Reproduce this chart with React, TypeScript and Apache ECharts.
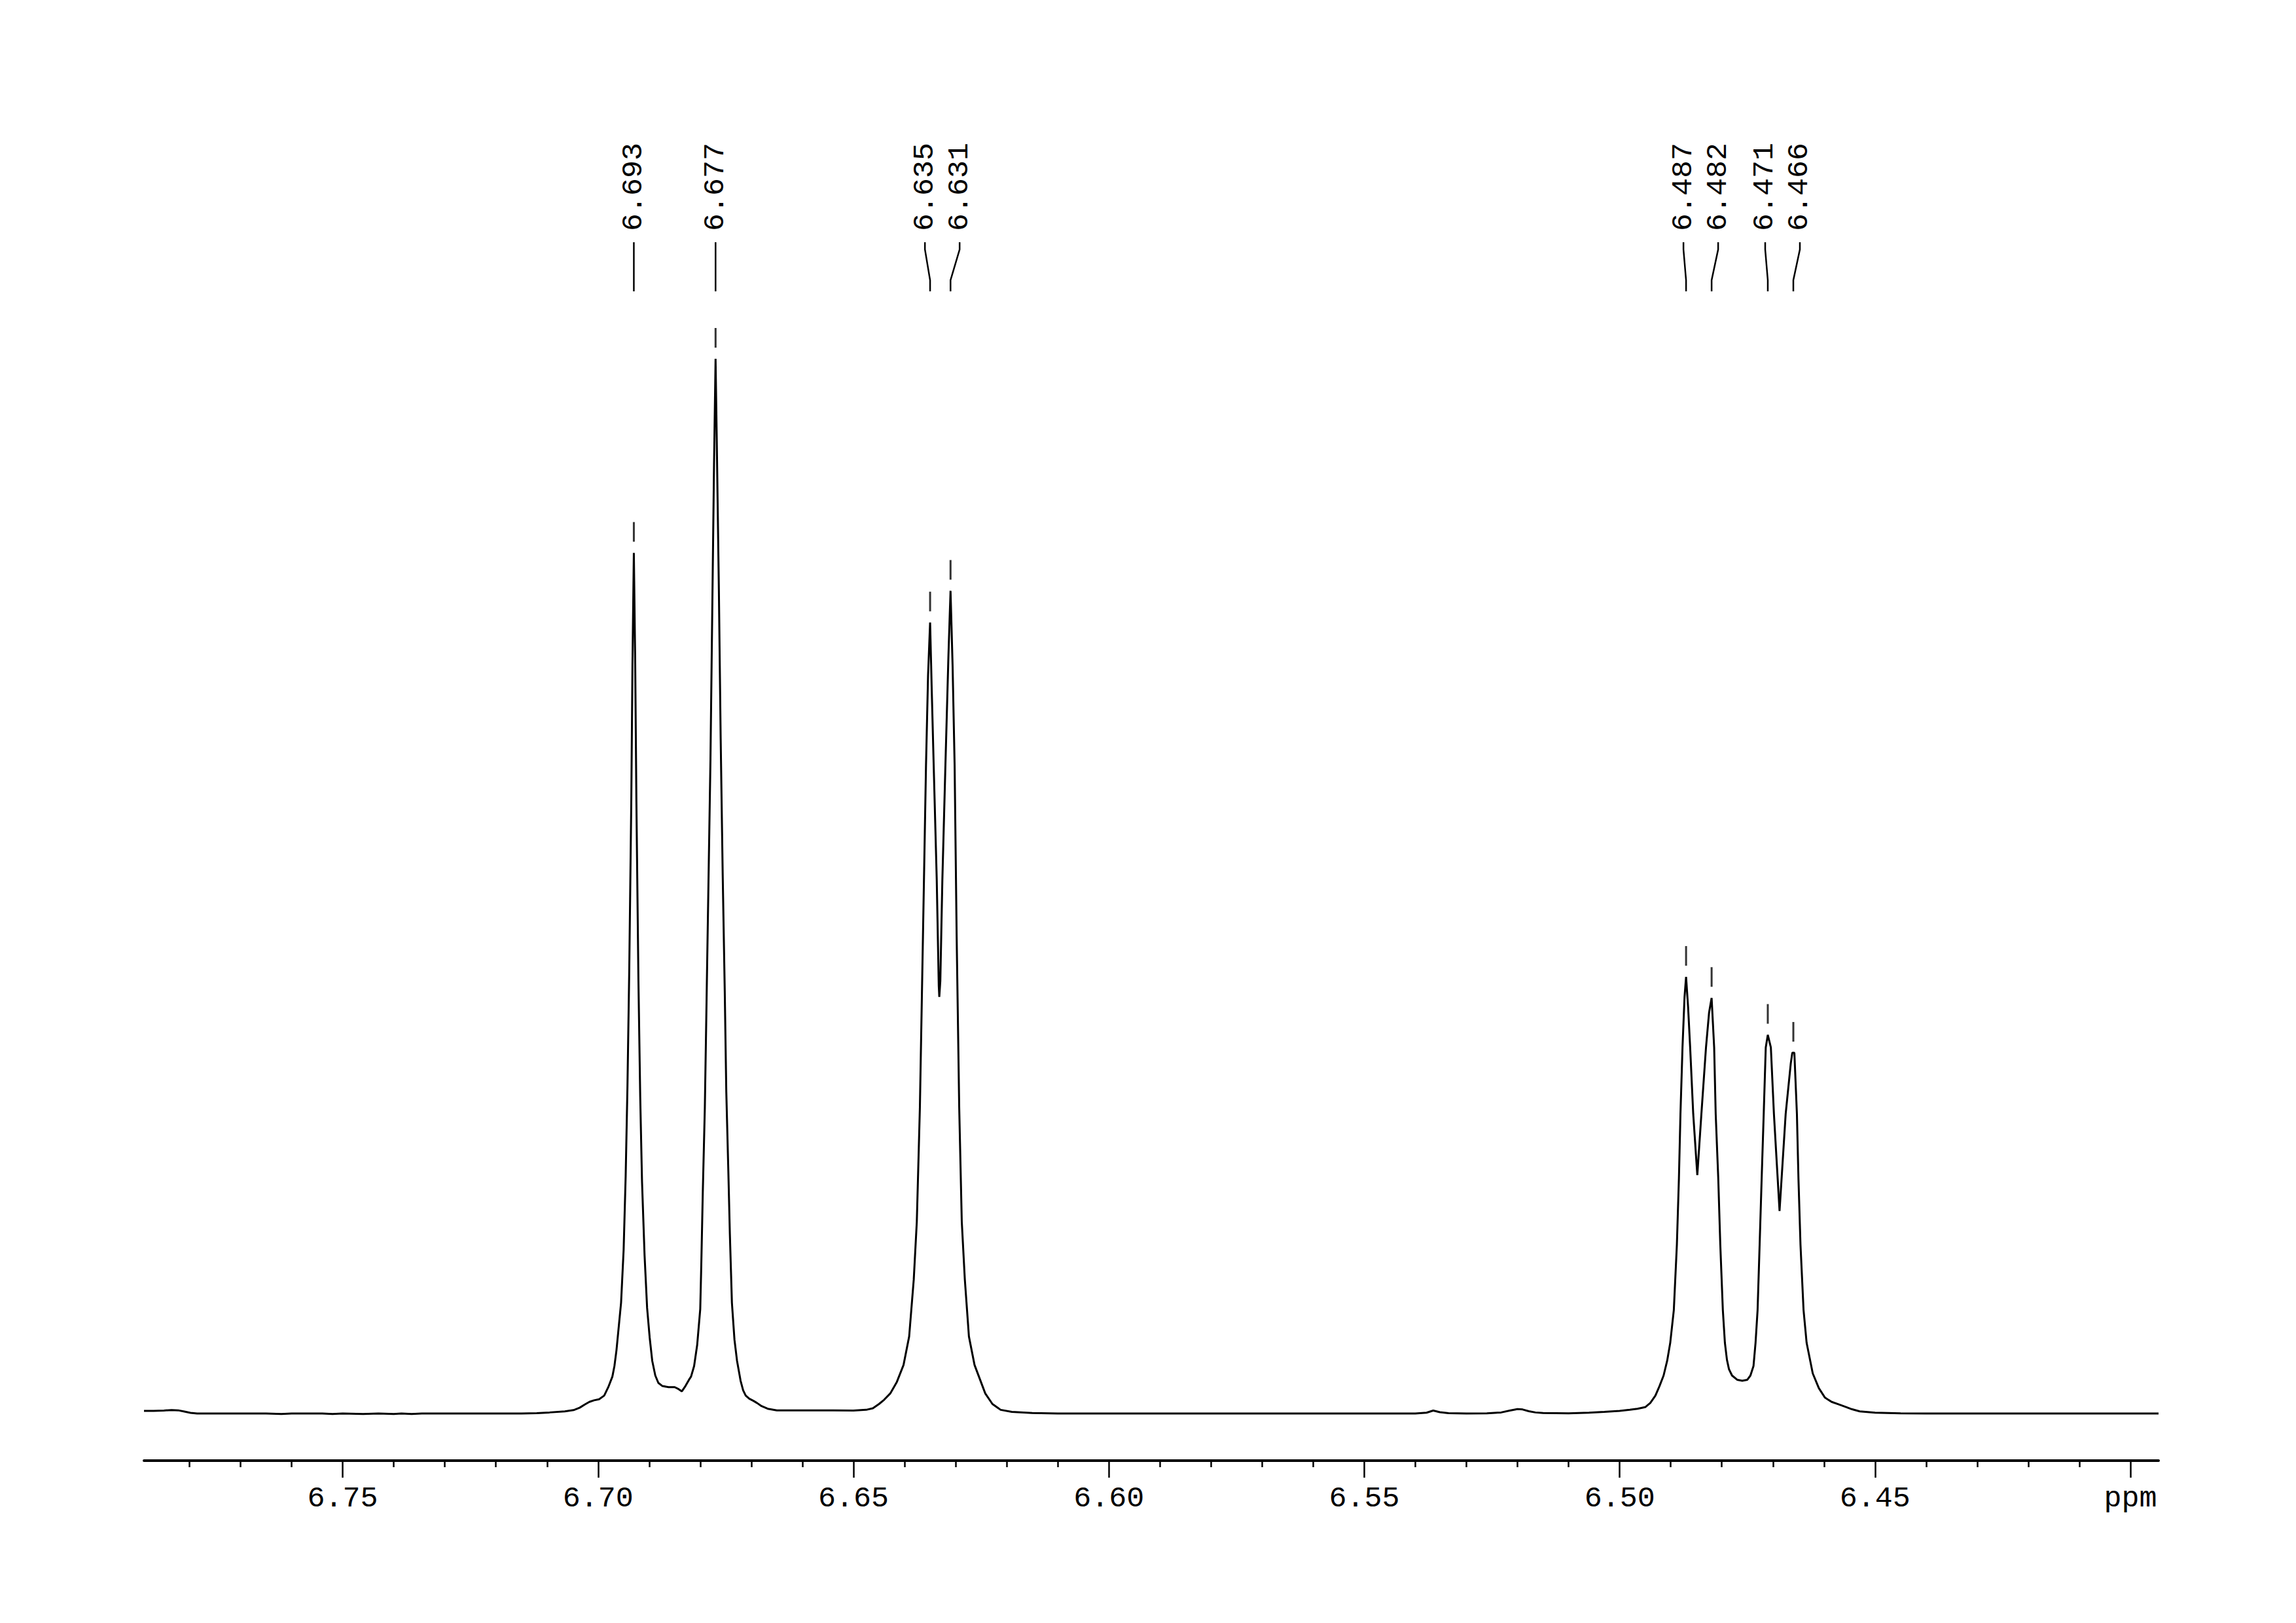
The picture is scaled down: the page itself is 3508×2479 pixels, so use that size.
import React, { useEffect, useRef } from 'react';
import * as echarts from 'echarts';

// Spectrum trace: [chemical shift (ppm), intensity (tallest peak = 100)]
const BASELINE_LEFT: [number, number][] = [
  [6.7889, 0.25], [6.7870, 0.25], [6.7850, 0.28], [6.7835, 0.33], [6.7822, 0.3], [6.7810, 0.18],
  [6.7798, 0.06], [6.7785, 0.0], [6.7700, 0.0], [6.7650, 0.0], [6.7620, -0.05], [6.7600, 0.0],
  [6.7540, 0.0], [6.7520, -0.05], [6.7500, 0.0], [6.7460, -0.04], [6.7430, 0.0], [6.7400, -0.05],
  [6.7385, 0.0], [6.7365, -0.05], [6.7345, 0.0], [6.7250, 0.0], [6.7150, 0.0], [6.7120, 0.03],
  [6.7095, 0.1], [6.7065, 0.2], [6.7048, 0.32], [6.7036, 0.55], [6.7026, 0.85], [6.7017, 1.1],
  [6.7008, 1.25], [6.6998, 1.35], [6.6988, 1.7], [6.6980, 2.5], [6.6972, 3.5],
];
const PEAK_6693: [number, number][] = [
  [6.6968, 4.5], [6.6964, 6.0], [6.6960, 8.0], [6.6955, 10.5], [6.6950, 15.5], [6.6946, 22.5],
  [6.69425, 31.0], [6.6939, 42.0], [6.6935, 58.0], [6.69327, 71.0], [6.6930, 81.6], [6.69273, 71.0],
  [6.6925, 58.0], [6.6921, 41.0], [6.69175, 30.0], [6.6914, 22.0], [6.6909, 15.0], [6.6904, 10.0],
  [6.6899, 7.2], [6.6894, 5.0], [6.6888, 3.6], [6.6882, 2.9], [6.6874, 2.6], [6.6862, 2.5],
  [6.6850, 2.5], [6.6842, 2.3], [6.6836, 2.1], [6.6829, 2.6], [6.6822, 3.2],
];
const PEAK_6677: [number, number][] = [
  [6.6818, 3.5], [6.6812, 4.5], [6.6806, 6.5], [6.6800, 9.9], [6.6798, 14.0], [6.6795, 21.0],
  [6.6791, 29.0], [6.6788, 38.0], [6.6784, 50.0], [6.6780, 62.0], [6.67765, 76.0], [6.6773, 90.0],
  [6.6770, 100.0], [6.6767, 90.0], [6.67635, 78.0], [6.6760, 64.0], [6.6756, 51.0], [6.6752, 40.0],
  [6.6749, 30.5], [6.6745, 23.0], [6.6742, 17.0], [6.6738, 10.5], [6.6733, 7.0], [6.6728, 5.0],
  [6.6721, 3.1], [6.6716, 2.2], [6.6711, 1.7], [6.6704, 1.4], [6.6696, 1.2], [6.6689, 1.0],
  [6.6680, 0.7], [6.6668, 0.45], [6.6650, 0.3], [6.6620, 0.3], [6.6580, 0.3], [6.6540, 0.3],
  [6.6500, 0.28], [6.6475, 0.35],
];
const DOUBLET_663: [number, number][] = [
  [6.6462, 0.5], [6.6450, 0.9], [6.6440, 1.3], [6.6428, 1.9], [6.6415, 3.0], [6.6402, 4.6],
  [6.6391, 7.3], [6.6382, 12.7], [6.6376, 18.2], [6.6370, 29.0], [6.6364, 45.2], [6.6358, 61.5],
  [6.6354, 70.0], [6.6350, 75.0], [6.6347, 69.0], [6.6343, 61.5], [6.6337, 50.6], [6.6333, 40.5],
  [6.6332, 39.5], [6.6330, 41.0], [6.6326, 50.6], [6.6320, 61.5], [6.6314, 72.0], [6.6310, 78.0],
  [6.6306, 71.0], [6.6302, 61.5], [6.6298, 45.2], [6.6293, 29.0], [6.6288, 18.2], [6.6282, 12.7],
  [6.6274, 7.3], [6.6263, 4.6], [6.6242, 1.9], [6.6228, 0.9], [6.6212, 0.35], [6.6190, 0.15],
  [6.6150, 0.05], [6.6100, 0.0],
];
const BASELINE_MID: [number, number][] = [
  [6.6000, 0.0], [6.5900, 0.0], [6.5800, 0.0], [6.5700, 0.0], [6.5600, 0.0], [6.5500, 0.0],
  [6.5400, 0.0], [6.5378, 0.08], [6.5365, 0.28], [6.5352, 0.12], [6.5335, 0.03], [6.5300, 0.0],
  [6.5260, 0.02], [6.5232, 0.1], [6.5215, 0.28], [6.5200, 0.42], [6.5190, 0.38], [6.5178, 0.22],
  [6.5165, 0.1], [6.5150, 0.05], [6.5100, 0.02], [6.5060, 0.08], [6.5030, 0.15], [6.5000, 0.25],
  [6.4980, 0.35], [6.4965, 0.45],
];
const MULTIPLET_648: [number, number][] = [
  [6.4950, 0.6], [6.4940, 1.0], [6.4930, 1.7], [6.4922, 2.6], [6.4914, 3.6], [6.4907, 5.0],
  [6.4901, 6.7], [6.4894, 9.8], [6.4888, 16.0], [6.4884, 22.3], [6.4881, 28.4], [6.4877, 34.7],
  [6.4873, 39.5], [6.4870, 41.4], [6.4866, 38.5], [6.4862, 34.7], [6.4856, 28.4], [6.4848, 22.6],
  [6.4840, 28.4], [6.4831, 34.7], [6.4825, 38.0], [6.4820, 39.4], [6.4815, 34.7], [6.4812, 28.4],
  [6.4807, 22.3], [6.4803, 16.0], [6.4798, 9.8], [6.4794, 6.7], [6.4790, 5.1], [6.4786, 4.2],
  [6.4780, 3.6], [6.4770, 3.2], [6.4760, 3.1], [6.4750, 3.2], [6.4744, 3.6], [6.4738, 4.5],
  [6.4734, 6.7], [6.4730, 9.8], [6.4726, 16.0], [6.4722, 22.3], [6.4718, 28.4], [6.4714, 34.7],
  [6.4710, 35.9], [6.4704, 34.7], [6.4698, 28.4], [6.4687, 19.2], [6.4675, 28.4], [6.4665, 33.2],
  [6.4662, 34.2], [6.4658, 34.2], [6.4653, 28.4], [6.4650, 22.3], [6.4646, 16.0], [6.4640, 9.8],
  [6.4634, 6.7], [6.4622, 3.8], [6.4610, 2.4], [6.4598, 1.5], [6.4585, 1.1], [6.4570, 0.85],
  [6.4556, 0.6], [6.4545, 0.4], [6.4530, 0.2],
];
const BASELINE_RIGHT: [number, number][] = [
  [6.4500, 0.08], [6.4450, 0.02], [6.4400, 0.0], [6.4200, 0.0], [6.4000, 0.0], [6.3945, 0.0],
];

// Peak picking
const PEAKS = [6.693, 6.677, 6.635, 6.631, 6.487, 6.482, 6.471, 6.466];
const PEAK_HEIGHTS = [81.6, 100, 75, 78, 41.4, 39.4, 35.9, 34.2];

// Axis ticks (ppm)
const MAJOR_TICKS = [6.40, 6.45, 6.50, 6.55, 6.60, 6.65, 6.70, 6.75];
const MINOR_TICKS = [
  6.41, 6.42, 6.43, 6.44, 6.46, 6.47, 6.48, 6.49, 6.51, 6.52, 6.53, 6.54, 6.56, 6.57, 6.58, 6.59,
  6.61, 6.62, 6.63, 6.64, 6.66, 6.67, 6.68, 6.69, 6.71, 6.72, 6.73, 6.74, 6.76, 6.77, 6.78,
];
const UNIT_LABEL = 'ppm';

const X_MIN = 6.3945;
const X_MAX = 6.7889;
const Y_MIN = -4.47;
const Y_MAX = 100;

const FONT = '"Liberation Mono", "DejaVu Sans Mono", monospace';

export default function App() {
  const ref = useRef<HTMLDivElement>(null);

  useEffect(() => {
    if (!ref.current) return;
    const chart = echarts.init(ref.current, null, { renderer: 'svg' });
    const spectrum = [
      ...BASELINE_LEFT, ...PEAK_6693, ...PEAK_6677, ...DOUBLET_663,
      ...BASELINE_MID, ...MULTIPLET_648, ...BASELINE_RIGHT,
    ];
    chart.setOption({
      animation: false,
      backgroundColor: '#ffffff',
      grid: { left: 220, right: 210, top: 548, bottom: 248 },
      xAxis: [
        {
          type: 'value', min: X_MIN, max: X_MAX, inverse: true, position: 'bottom',
          axisLine: { show: true, onZero: false, lineStyle: { color: '#000', width: 4 } },
          axisTick: { show: true, customValues: MINOR_TICKS, length: 10, lineStyle: { color: '#000', width: 2.5 } },
          axisLabel: { show: false },
          splitLine: { show: false },
        },
        {
          type: 'value', min: X_MIN, max: X_MAX, inverse: true, position: 'bottom',
          axisLine: { show: false, onZero: false },
          axisTick: { show: true, customValues: MAJOR_TICKS, length: 26, lineStyle: { color: '#000', width: 2.5 } },
          axisLabel: {
            show: true, customValues: MAJOR_TICKS, margin: 36, color: '#000',
            fontFamily: FONT, fontSize: 45,
            formatter: (v: number) => (Math.abs(v - 6.40) < 1e-6 ? UNIT_LABEL : v.toFixed(2)),
          },
          splitLine: { show: false },
        },
      ],
      yAxis: { type: 'value', min: Y_MIN, max: Y_MAX, show: false },
      series: [
        {
          type: 'line', xAxisIndex: 0, data: spectrum, symbol: 'none', silent: true,
          lineStyle: { color: '#000', width: 3 },
        },
        {
          type: 'scatter', xAxisIndex: 0, silent: true,
          data: PEAKS.map((p, i) => [p, PEAK_HEIGHTS[i]]),
          symbol: 'rect', symbolSize: [3, 30], symbolOffset: [0, -32],
          itemStyle: { color: '#000' },
        },
      ],
    });

    // Peak labels with leader lines
    const px = PEAKS.map((p) => chart.convertToPixel({ xAxisIndex: 0 }, p) as number);
    const GAP = 53;
    const lx: number[] = new Array(px.length);
    let i = 0;
    while (i < px.length) {
      let j = i;
      while (j + 1 < px.length && px[j + 1] - px[j] < GAP) j++;
      const n = j - i + 1;
      let mean = 0;
      for (let k = i; k <= j; k++) mean += px[k];
      mean /= n;
      for (let k = i; k <= j; k++) lx[k] = n === 1 ? px[k] : mean + 3 + (k - i - (n - 1) / 2) * GAP;
      i = j + 1;
    }
    const graphics: any[] = [];
    PEAKS.forEach((p, k) => {
      graphics.push({
        type: 'polyline', silent: true,
        shape: { points: [[lx[k], 370], [lx[k], 381], [px[k], 428], [px[k], 445]] },
        style: { stroke: '#000', lineWidth: 2.5, fill: null },
      });
      graphics.push({
        type: 'text', silent: true, x: lx[k], y: 353, rotation: Math.PI / 2,
        style: {
          text: p.toFixed(3), fill: '#000', fontFamily: FONT, fontSize: 45,
          align: 'left', verticalAlign: 'middle',
        },
      });
    });
    chart.setOption({ graphic: graphics });

    return () => chart.dispose();
  }, []);

  return (
    <div
      ref={ref}
      style={{ position: 'absolute', left: 0, top: 0, width: 3508, height: 2479, background: '#fff' }}
    />
  );
}
